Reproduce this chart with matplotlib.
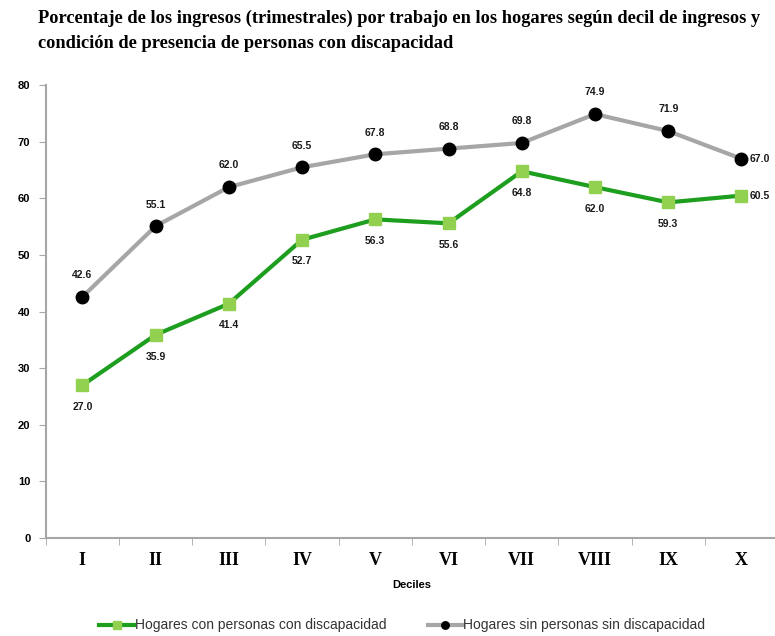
import matplotlib
matplotlib.use("Agg")
import matplotlib.pyplot as plt
import numpy as np

deciles = ["I", "II", "III", "IV", "V", "VI", "VII", "VIII", "IX", "X"]
con_disc = [27.0, 35.9, 41.4, 52.7, 56.3, 55.6, 64.8, 62.0, 59.3, 60.5]
sin_disc = [42.6, 55.1, 62.0, 65.5, 67.8, 68.8, 69.8, 74.9, 71.9, 67.0]
yticks = [0, 10, 20, 30, 40, 50, 60, 70, 80]

title = ("Porcentaje de los ingresos (trimestrales) por trabajo en los hogares según decil de ingresos y\n"
         "condición de presencia de personas con discapacidad")

fig = plt.figure(figsize=(7.75, 6.36), dpi=100)
ax = fig.add_axes([0.059, 0.154, 0.945, 0.712])

x = np.arange(len(deciles))
ax.plot(x, con_disc, color="#1E9E1E", lw=3, marker="s", ms=9,
        mfc="#92D050", mec="#92D050", label="Hogares con personas con discapacidad", zorder=3)
ax.plot(x, sin_disc, color="#A6A6A6", lw=3, marker="o", ms=9,
        mfc="black", mec="black", label="Hogares sin personas sin discapacidad", zorder=3)

lab_kw = dict(fontsize=7.5, fontweight="bold", family="Liberation Sans", color="#1a1a1a")
last = len(deciles) - 1
for i, v in enumerate(sin_disc):
    if i == last:
        ax.annotate(f"{v:.1f}", (i, v), xytext=(6, 0), textcoords="offset points",
                    ha="left", va="center", **lab_kw)
    else:
        ax.annotate(f"{v:.1f}", (i, v), xytext=(0, 12), textcoords="offset points",
                    ha="center", va="bottom", **lab_kw)
for i, v in enumerate(con_disc):
    if i == last:
        ax.annotate(f"{v:.1f}", (i, v), xytext=(6, 0), textcoords="offset points",
                    ha="left", va="center", **lab_kw)
    else:
        ax.annotate(f"{v:.1f}", (i, v), xytext=(0, -12), textcoords="offset points",
                    ha="center", va="top", **lab_kw)

ax.set_xlim(-0.5, len(deciles) - 0.5)
ax.set_ylim(0, 80)
ax.set_yticks(yticks)
ax.set_yticklabels([str(t) for t in yticks], fontsize=8, fontweight="bold",
                   family="Liberation Sans")
ax.set_xticks(x)
ax.set_xticklabels(deciles, fontsize=13, fontweight="bold", family="Liberation Serif")
ax.set_xticks(np.arange(-0.5, len(deciles), 1), minor=True)
ax.tick_params(axis="x", which="major", length=0, pad=10)
ax.tick_params(axis="x", which="minor", length=5, color="#A6A6A6")
ax.tick_params(axis="y", length=5, color="#A6A6A6", pad=6)

for s in ("top", "right"):
    ax.spines[s].set_visible(False)
for s in ("left", "bottom"):
    ax.spines[s].set_color("#A6A6A6")
    ax.spines[s].set_linewidth(1.5)

ax.set_xlabel("Deciles", fontsize=8, fontweight="bold", family="Liberation Sans", labelpad=8)

fig.text(0.049, 0.985, title, ha="left", va="top", fontsize=13.2, fontweight="bold",
         family="Liberation Serif", linespacing=1.65)

leg = fig.legend(loc="lower center", bbox_to_anchor=(0.519, -0.014), ncol=2, frameon=False,
                 prop={"family": "Liberation Sans", "size": 10},
                 handlelength=2.5, handletextpad=0.05, columnspacing=3, markerscale=0.6)
for t in leg.get_texts():
    t.set_color("#333333")

fig.savefig("out.png", dpi=100)
